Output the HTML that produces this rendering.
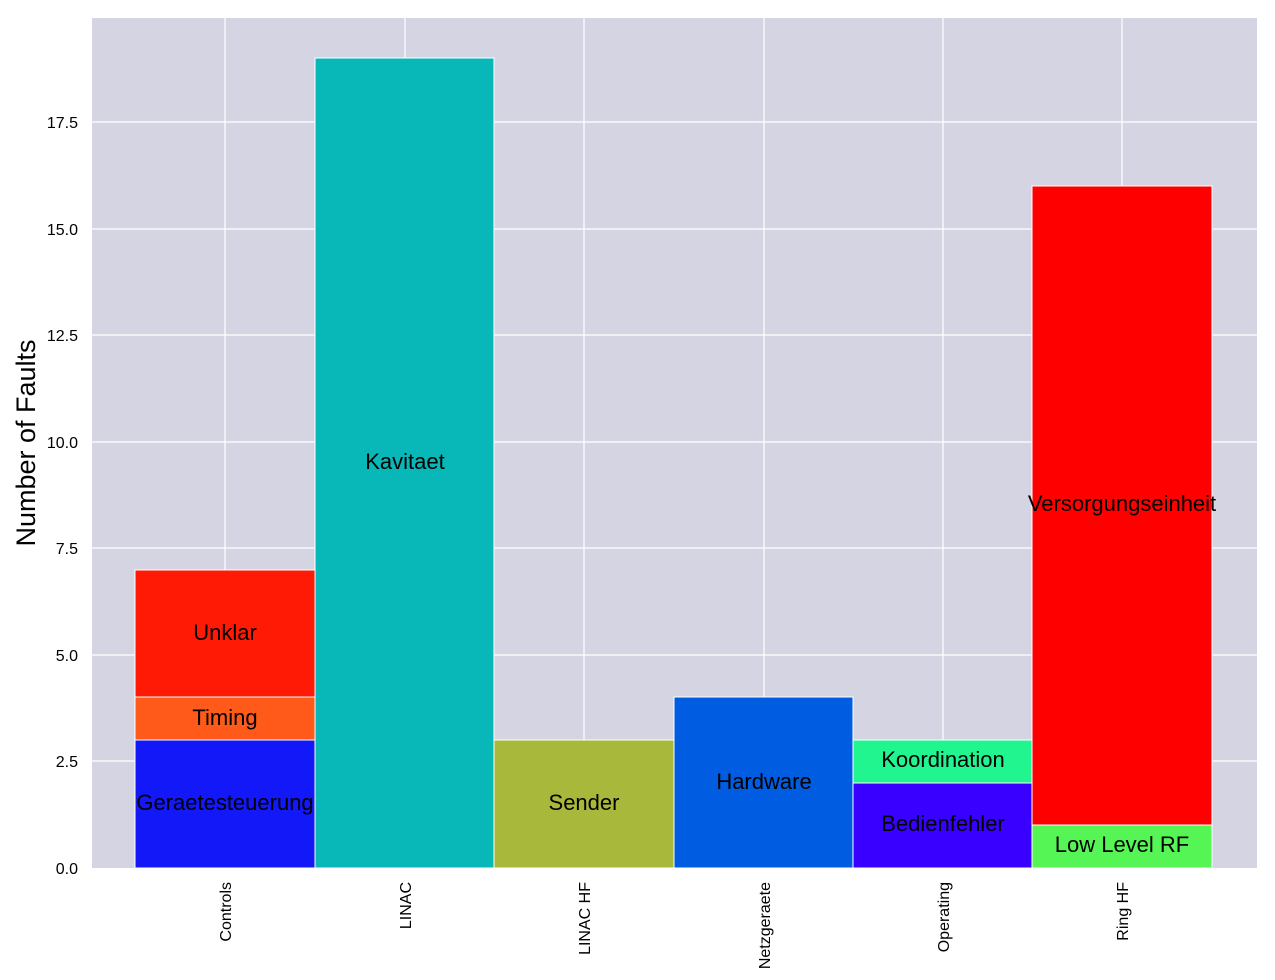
<!DOCTYPE html>
<html><head><meta charset="utf-8"><style>body{margin:0;background:#fff}svg{display:block}</style></head><body>
<svg width="1275" height="980" xmlns="http://www.w3.org/2000/svg" font-family="Liberation Sans, Arial, sans-serif">
<rect x="0" y="0" width="1275" height="980" fill="#fff"/>
<rect x="92" y="18" width="1165" height="850" fill="#d4d4e3"/>
<g stroke="#fff" stroke-width="1.2">
<line x1="92" x2="1257" y1="761" y2="761"/><line x1="92" x2="1257" y1="655" y2="655"/><line x1="92" x2="1257" y1="548" y2="548"/><line x1="92" x2="1257" y1="442" y2="442"/><line x1="92" x2="1257" y1="335" y2="335"/><line x1="92" x2="1257" y1="229" y2="229"/><line x1="92" x2="1257" y1="122" y2="122"/>
<line x1="225" x2="225" y1="18" y2="868"/><line x1="405" x2="405" y1="18" y2="868"/><line x1="584" x2="584" y1="18" y2="868"/><line x1="764" x2="764" y1="18" y2="868"/><line x1="943" x2="943" y1="18" y2="868"/><line x1="1122" x2="1122" y1="18" y2="868"/>
</g>
<g stroke="#fff" stroke-width="1">
<rect x="135" y="740" width="180" height="128" fill="#1218f8"/>
<rect x="135" y="697" width="180" height="43" fill="#ff5a1a"/>
<rect x="135" y="570" width="180" height="127" fill="#ff1a05"/>
<rect x="315" y="58" width="179" height="810" fill="#08b8b8"/>
<rect x="494" y="740" width="180" height="128" fill="#a8b83a"/>
<rect x="674" y="697" width="179" height="171" fill="#005ce0"/>
<rect x="853" y="783" width="179" height="85" fill="#3a00ff"/>
<rect x="853" y="740" width="179" height="43" fill="#20f590"/>
<rect x="1032" y="825" width="180" height="43" fill="#55f555"/>
<rect x="1032" y="186" width="180" height="639" fill="#ff0000"/>
</g>
<g font-size="22" text-anchor="middle" fill="#000">
<text x="225" y="810">Geraetesteuerung</text>
<text x="225" y="725">Timing</text>
<text x="225" y="640">Unklar</text>
<text x="405" y="469">Kavitaet</text>
<text x="584" y="810">Sender</text>
<text x="764" y="789">Hardware</text>
<text x="943" y="831">Bedienfehler</text>
<text x="943" y="767">Koordination</text>
<text x="1122" y="852">Low Level RF</text>
<text x="1122" y="511">Versorgungseinheit</text>
</g>
<g font-size="16" text-anchor="end" fill="#000">
<text x="78" y="874">0.0</text><text x="78" y="767">2.5</text><text x="78" y="661">5.0</text><text x="78" y="554">7.5</text><text x="78" y="448">10.0</text><text x="78" y="341">12.5</text><text x="78" y="235">15.0</text><text x="78" y="128">17.5</text>
</g>
<g font-size="16" text-anchor="end" fill="#000">
<text transform="translate(231,882) rotate(-90)">Controls</text>
<text transform="translate(411,882) rotate(-90)">LINAC</text>
<text transform="translate(590,882) rotate(-90)">LINAC HF</text>
<text transform="translate(770,882) rotate(-90)">Netzgeraete</text>
<text transform="translate(949,882) rotate(-90)">Operating</text>
<text transform="translate(1128,882) rotate(-90)">Ring HF</text>
</g>
<text transform="translate(35,443) rotate(-90)" font-size="27" text-anchor="middle" fill="#000">Number of Faults</text>
</svg>
</body></html>
